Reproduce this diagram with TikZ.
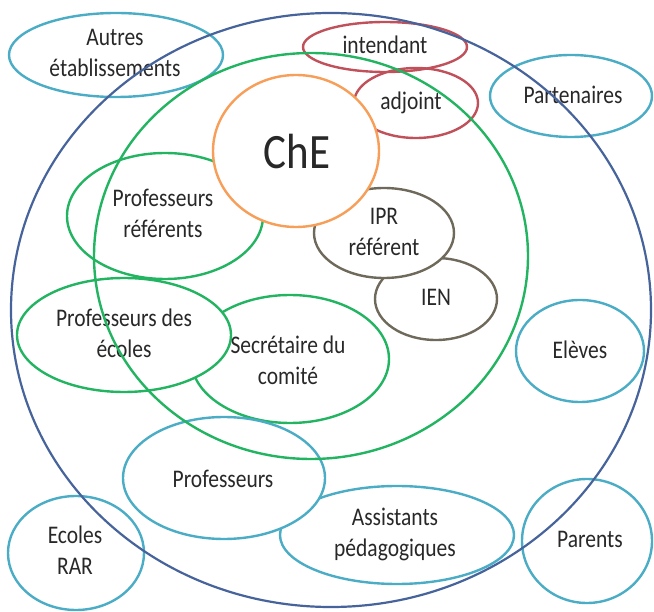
\documentclass[tikz,border=0pt]{standalone}
\usepackage{fontspec}
\setmainfont{Carlito}
\usepackage{graphicx}
\usetikzlibrary{shapes.geometric}

\definecolor{outerblue}{RGB}{70,100,155}
\definecolor{ringgreen}{RGB}{35,180,98}
\definecolor{aqua}{RGB}{75,172,198}
\definecolor{wine}{RGB}{192,80,90}
\definecolor{peach}{RGB}{247,158,88}
\definecolor{olive}{RGB}{110,105,90}
\definecolor{ink}{RGB}{40,40,40}

% two-line labels, slightly stretched vertically
\newcommand{\lbl}[1]{\scalebox{1}[1.18]{\begin{tabular}{@{}c@{}}#1\end{tabular}}}

\tikzset{
  bubble/.style args={#1/#2/#3}{ellipse, draw=#1, line width=2.4pt,
    minimum width=#2pt, minimum height=#3pt, inner sep=0pt},
  opaque/.style={fill=white},
  txt/.style={text=ink, inner sep=0pt,
    font=\fontsize{21.5}{26.5}\selectfont},
}

\begin{document}
\begin{tikzpicture}[x=1pt, y=-1pt]
\useasboundingbox (0,0) rectangle (654,612);

% comité: lower group
\node[bubble=ringgreen/198/128] (secr) at (290,359) {};
\node[bubble=ringgreen/214/114, opaque] (pecoles) at (124,335) {};
\node[bubble=aqua/234/98] (assist) at (397,535) {};
\node[bubble=aqua/202/122, opaque] (prof) at (224,478) {};

% comité: upper group
\node[bubble=ringgreen/196/126] (pref) at (165,216) {};
\node[bubble=wine/124/70] (adj) at (416,103) {};
\node[bubble=wine/164/50] (intend) at (385,47) {};
\node[bubble=olive/122/82] (ien) at (436,299) {};
\node[bubble=olive/140/90, opaque] (ipr) at (384,233) {};
\node[bubble=peach/166/152, opaque] (che) at (296,151) {};

% outside partners
\node[bubble=aqua/214/84] (autres) at (116,55) {};
\node[bubble=aqua/162/82] (parten) at (571,96) {};
\node[bubble=aqua/128/102] (eleves) at (580,351) {};
\node[bubble=aqua/136/114] (rar) at (76,553) {};
\node[bubble=aqua/130/124] (parents) at (587,541) {};

% labels
\node[txt] (t-secr) at (288,363) {\lbl{Secrétaire du\\comité}};
\node[txt] (t-pecoles) at (124,336) {\lbl{Professeurs des\\écoles}};
\node[txt] (t-assist) at (395,535) {\lbl{Assistants\\pédagogiques}};
\node[txt] (t-prof) at (223,481) {\lbl{Professeurs}};
\node[txt] (t-pref) at (163,216) {\lbl{Professeurs\\référents}};
\node[txt] (t-adj) at (411,103) {\lbl{adjoint}};
\node[txt] (t-intend) at (385,47) {\lbl{intendant}};
\node[txt] (t-ien) at (436,299) {\lbl{IEN}};
\node[txt] (t-ipr) at (384,234) {\lbl{IPR\\référent}};
\node[txt, font=\fontsize{43}{50}\selectfont] (t-che) at (297,152) {\scalebox{1}[1.15]{ChE}};
\node[txt] (t-autres) at (115,55) {\lbl{Autres\\établissements}};
\node[txt] (t-parten) at (573,97) {\lbl{Partenaires}};
\node[txt] (t-eleves) at (580,352) {\lbl{Elèves}};
\node[txt] (t-rar) at (75,553) {\lbl{Ecoles\\RAR}};
\node[txt] (t-parents) at (590,541) {\lbl{Parents}};

% enclosing rings
\node[bubble=ringgreen/434/406] (comite) at (311,256) {};
\node[bubble=outerblue/640/594, line width=2.2pt] (reseau) at (331,310) {};
\end{tikzpicture}
\end{document}
